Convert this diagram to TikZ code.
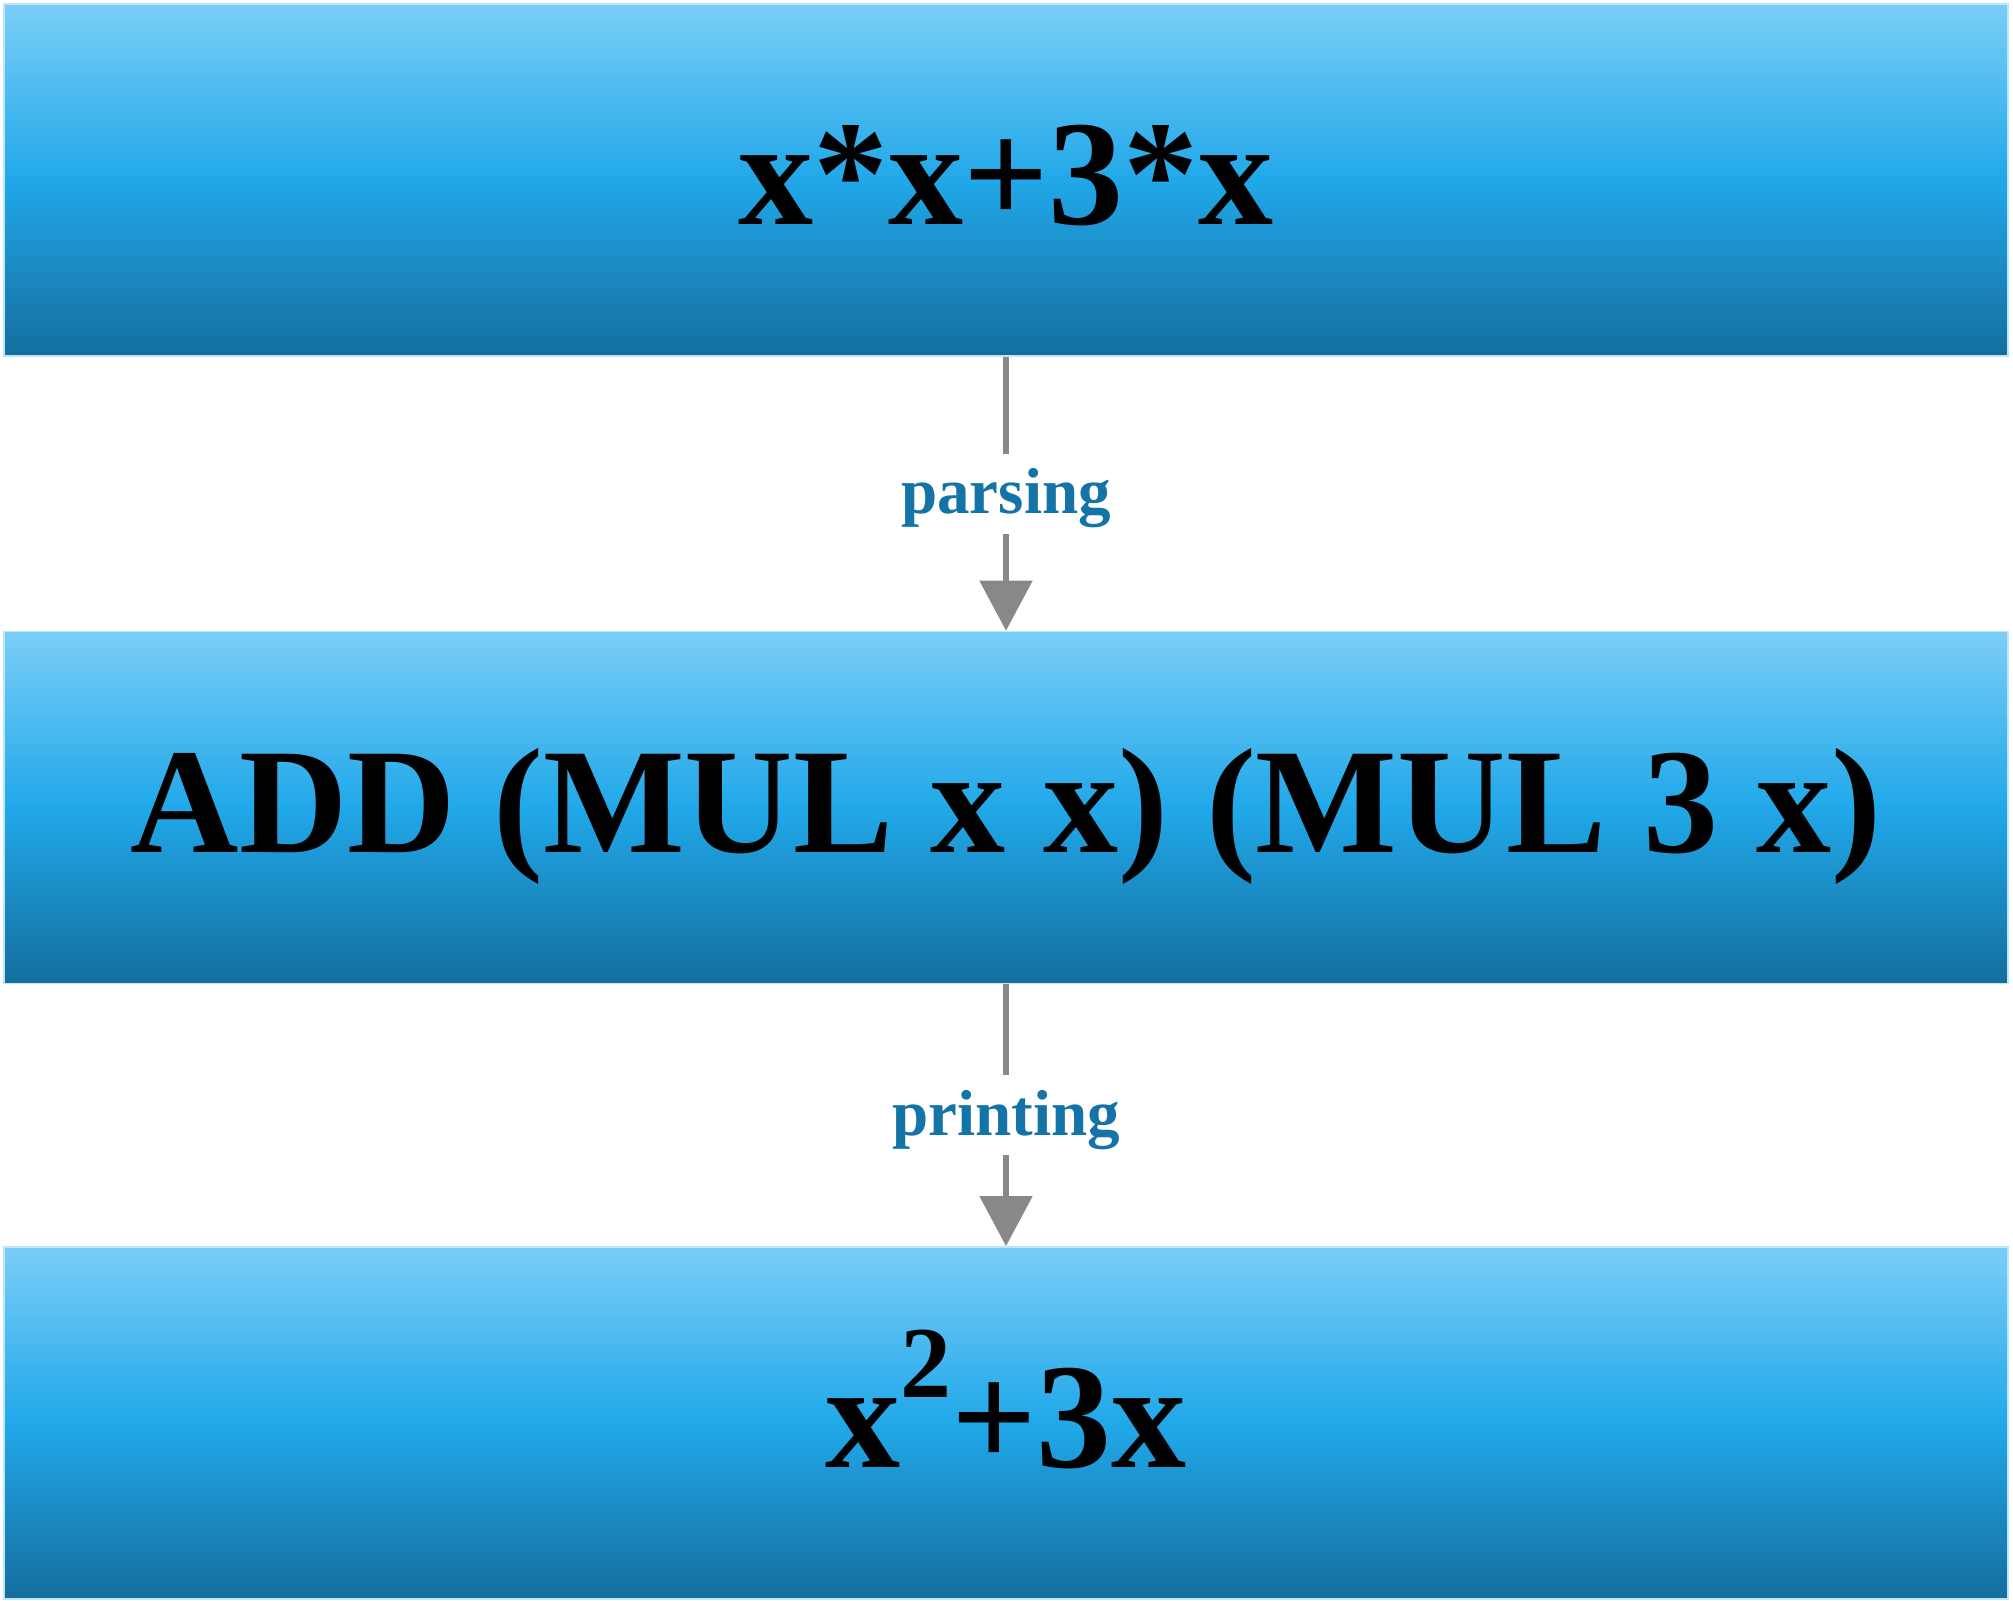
\documentclass[tikz,border=0pt]{standalone}
\usepackage{fontspec}
\setmainfont{Liberation Serif}
\usepackage{xcolor}
\usepackage{tikz}
\usetikzlibrary{positioning,arrows.meta}
\definecolor{boxtop}{RGB}{122,206,247}
\definecolor{boxmid}{RGB}{33,168,233}
\definecolor{boxbot}{RGB}{20,110,158}
\definecolor{boxedge}{RGB}{190,230,248}
\definecolor{lblblue}{RGB}{20,116,168}
\definecolor{flowgray}{RGB}{136,136,136}
\tikzset{main/.style={draw=boxedge, line width=0.4pt, rectangle, minimum width=20.04cm, minimum height=3.52cm, top color=boxtop, bottom color=boxbot, middle color=boxmid, text=black, font=\fontsize{42.7}{50}\selectfont\bfseries, text height=0.9cm, text depth=0pt, inner sep=0pt}}
\tikzset{flow/.style={draw=flowgray, line width=1.45pt, -{Triangle[width=0.52cm, length=0.50cm]}}}
\tikzset{lbl/.style={midway, fill=white, text=lblblue, font=\fontsize{18.5}{22}\selectfont\bfseries, text height=0.5cm, text depth=0.1cm, inner sep=0.1cm}}

\begin{document}
\begin{tikzpicture}
		\fill[white] (0,0) rectangle (20.13,16);
		\useasboundingbox (0,0) rectangle (20.13,16);
		\node[main] (src) at (10.06,14.20) {x*x+3*x};
		\node[main] (tree) [below=2.74cm of src] {ADD (MUL x x) (MUL 3 x)};
		\node[main] (out) [below=2.62cm of tree] {x\raisebox{0.7cm}{\fontsize{29}{32}\selectfont 2}+3x};
		
		\draw[flow] (src) -- node[lbl] {parsing} (tree);
		\draw[flow] (tree) -- node[lbl] {printing} (out);
	\end{tikzpicture}
\end{document}
